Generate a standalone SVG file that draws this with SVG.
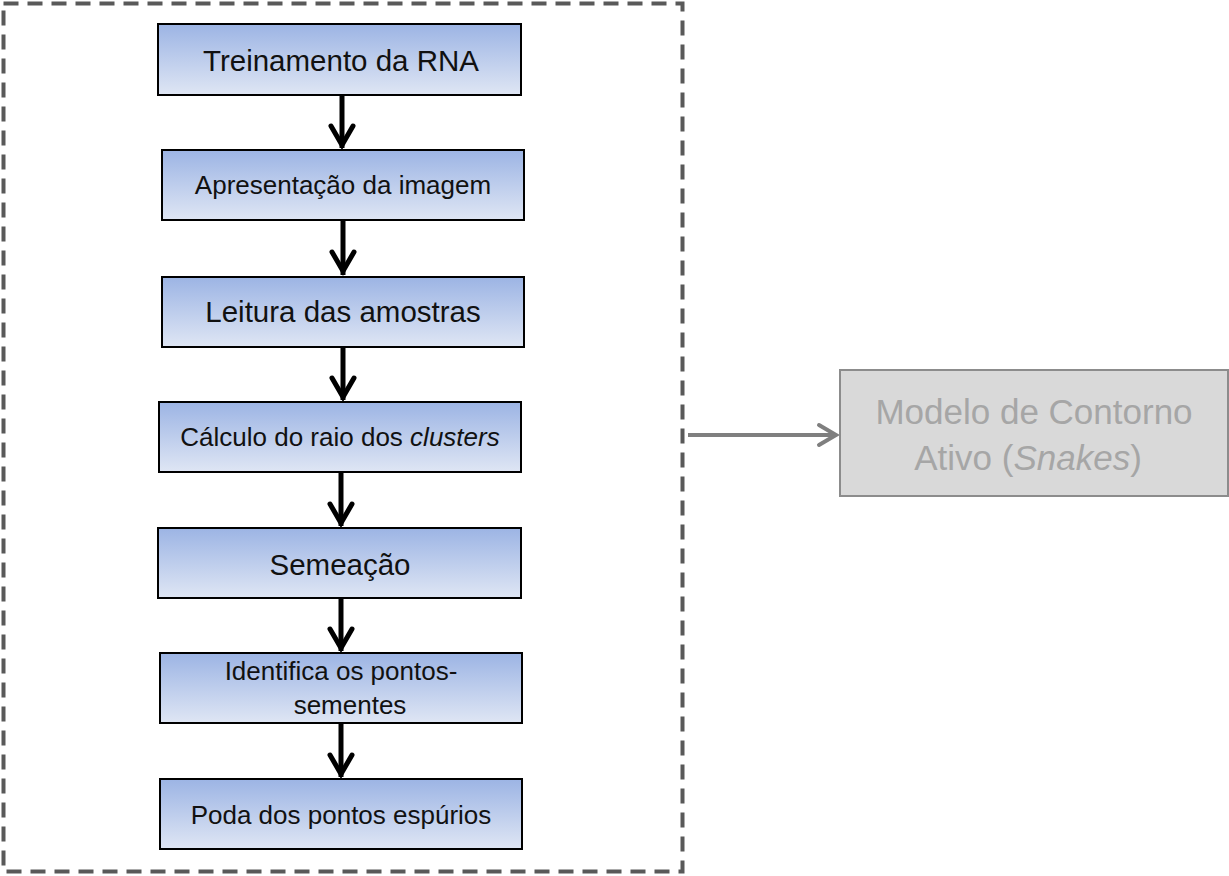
<svg xmlns="http://www.w3.org/2000/svg" width="1229" height="876" viewBox="0 0 1229 876">
<style>
.box{stroke:#000;stroke-width:2;fill:url(#g)}
.big{font-family:"Liberation Sans",Arial,sans-serif;font-size:29.5px;fill:#111;text-anchor:middle}
.sm{font-family:"Liberation Sans",Arial,sans-serif;font-size:26px;fill:#111;text-anchor:middle}
.ar{stroke:#000;stroke-width:5;fill:none}
.hd{stroke:#000;stroke-width:5;fill:none;stroke-linecap:round;stroke-linejoin:miter}
.gt{font-family:"Liberation Sans",Arial,sans-serif;font-size:35px;fill:#a6a6a6;text-anchor:middle}
</style>
<defs>
<linearGradient id="g" x1="0" y1="0" x2="0" y2="1">
<stop offset="0" stop-color="#9cb4e4"/>
<stop offset="1" stop-color="#dfe6f4"/>
</linearGradient>
</defs>
<rect width="1229" height="876" fill="#fff"/>
<rect id="frame" x="3.5" y="3.5" width="679" height="868" fill="none" stroke="#595959" stroke-width="4" stroke-dasharray="15 9"/>
<g id="connectors">
<line class="ar" x1="342" y1="95" x2="342" y2="148"/><polyline class="hd" points="331,126 342,145 353,126"/>
<line class="ar" x1="343" y1="220" x2="343" y2="275"/><polyline class="hd" points="332,252 343,271 354,252"/>
<line class="ar" x1="343" y1="347" x2="343" y2="400"/><polyline class="hd" points="332,378 343,397 354,378"/>
<line class="ar" x1="341" y1="472" x2="341" y2="526"/><polyline class="hd" points="330,504 341,523 352,504"/>
<line class="ar" x1="341" y1="598" x2="341" y2="651"/><polyline class="hd" points="330,629 341,648 352,629"/>
<line class="ar" x1="341" y1="723" x2="341" y2="777"/><polyline class="hd" points="330,755 341,774 352,755"/>
<line x1="688" y1="435" x2="836" y2="435" stroke="#7f7f7f" stroke-width="4"/>
<polyline points="819,425 836,435 819,445" fill="none" stroke="#7f7f7f" stroke-width="4" stroke-linecap="round"/>
</g>
<g id="n1"><rect class="box" x="158" y="24" width="363" height="71"/><text class="big" x="341" y="71">Treinamento da RNA</text></g>
<g id="n2"><rect class="box" x="162" y="150" width="362" height="70"/><text class="sm" x="343" y="194">Apresentação da imagem</text></g>
<g id="n3"><rect class="box" x="162" y="277" width="362" height="70"/><text class="big" x="343" y="322">Leitura das amostras</text></g>
<g id="n4"><rect class="box" x="159" y="402" width="362" height="70"/><text class="sm" x="340" y="446">Cálculo do raio dos <tspan font-style="italic">clusters</tspan></text></g>
<g id="n5"><rect class="box" x="158" y="528" width="363" height="70"/><text class="big" x="340" y="575">Semeação</text></g>
<g id="n6"><rect class="box" x="160" y="653" width="362" height="70"/><text class="sm" x="341" y="680">Identifica os pontos-</text><text class="sm" x="350" y="714">sementes</text></g>
<g id="n7"><rect class="box" x="160" y="779" width="362" height="70"/><text class="sm" x="341" y="824">Poda dos pontos espúrios</text></g>
<g id="n8"><rect x="840" y="370" width="388" height="126" fill="#d9d9d9" stroke="#8c8c8c" stroke-width="2"/>
<text class="gt" x="1034" y="424">Modelo de Contorno</text>
<text class="gt" x="1028" y="470">Ativo (<tspan font-style="italic">Snakes</tspan>)</text></g>
</svg>
